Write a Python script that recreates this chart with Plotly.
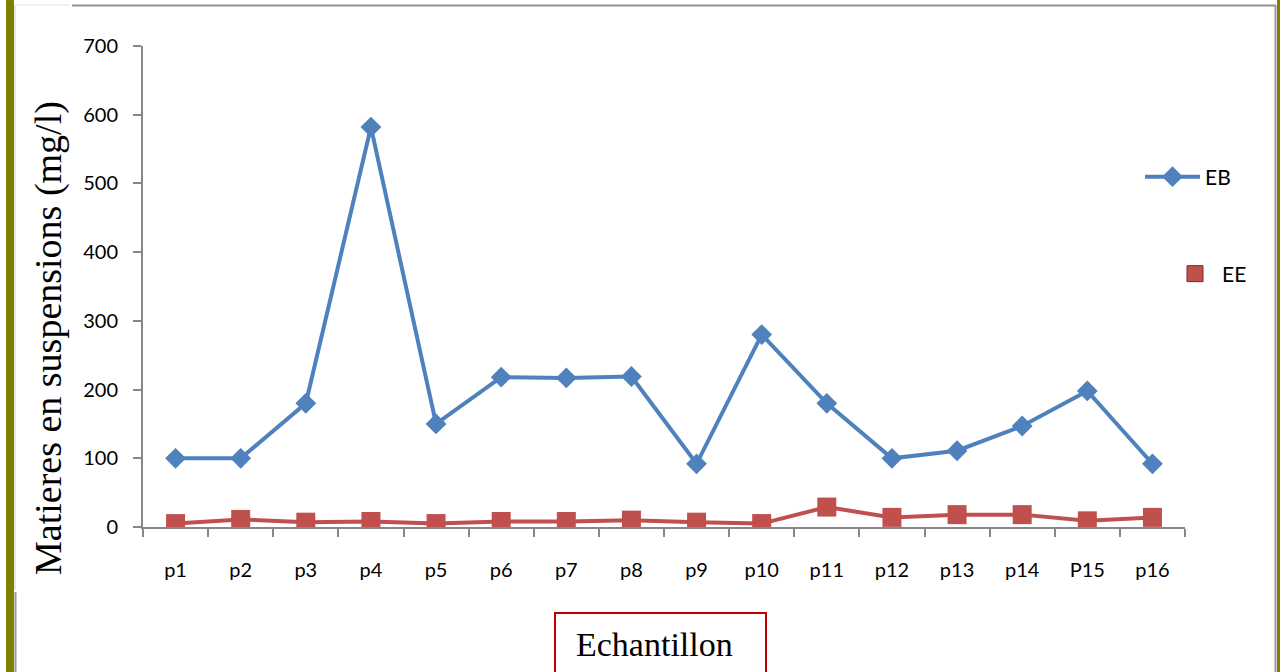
import plotly.graph_objects as go

# Sample points along the watercourse
categories = ["p1", "p2", "p3", "p4", "p5", "p6", "p7", "p8",
              "p9", "p10", "p11", "p12", "p13", "p14", "P15", "p16"]

# Suspended matter (mg/l): raw water (EB) and treated water (EE)
eb_values = [100, 100, 180, 582, 150, 218, 217, 219, 92, 280, 180, 100, 111, 147, 198, 92]
ee_values = [5, 11, 7, 8, 5, 8, 8, 10, 7, 5, 29, 14, 18, 18, 9, 14]

y_ticks = [0, 100, 200, 300, 400, 500, 600, 700]

W_PX, H_PX = 1282, 672
M_L, M_R, M_T, M_B = 143, 97, 46, 145
PLOT_W = W_PX - M_L - M_R
PLOT_H = H_PX - M_T - M_B


def px_x(px):
    return (px - M_L) / PLOT_W


def px_y(py):
    return (H_PX - M_B - py) / PLOT_H


BLUE = "#4F81BD"
RED = "#C0504D"
AXIS_GREY = "#878787"
OLIVE = "#808000"
TICK_FONT = dict(family="Lato, Carlito, Calibri, sans-serif", size=20, color="#000000")

fig = go.Figure()

fig.add_trace(go.Scatter(
    x=categories, y=eb_values, name="EB", mode="lines+markers",
    line=dict(color=BLUE, width=4),
    marker=dict(symbol="diamond", size=16, color=BLUE),
    legend="legend",
))
fig.add_trace(go.Scatter(
    x=categories, y=ee_values, name="EE", mode="lines+markers",
    line=dict(color=RED, width=4),
    marker=dict(symbol="square", size=19, color=RED),
    showlegend=False,
))
# Legend key for EE shown as a plain square swatch
fig.add_trace(go.Scatter(
    x=[None], y=[None], name="EE", mode="markers",
    marker=dict(symbol="square", size=16, color=RED,
                line=dict(color="#7a2a28", width=1)),
    legend="legend2",
))

fig.update_xaxes(
    type="category", range=[-0.5, len(categories) - 0.5],
    showline=True, linecolor=AXIS_GREY, linewidth=2,
    ticks="outside", tickson="boundaries", ticklen=8, tickcolor=AXIS_GREY, tickwidth=2,
    tickfont=TICK_FONT, ticklabelstandoff=24, showgrid=False, zeroline=False,
)
fig.update_yaxes(
    range=[0, 700], tickvals=y_ticks,
    showline=True, linecolor=AXIS_GREY, linewidth=2,
    ticks="outside", ticklen=8, tickcolor=AXIS_GREY, tickwidth=2,
    tickfont=TICK_FONT, ticklabelstandoff=11, showgrid=False, zeroline=False,
)

shapes = [
    # page frame
    dict(type="rect", xref="paper", yref="paper",
         x0=px_x(6), x1=px_x(14), y0=px_y(0), y1=px_y(672),
         fillcolor=OLIVE, line=dict(width=0), layer="below"),
    dict(type="rect", xref="paper", yref="paper",
         x0=px_x(1277), x1=px_x(1280), y0=px_y(0), y1=px_y(672),
         fillcolor=OLIVE, line=dict(width=0), layer="below"),
    dict(type="line", xref="paper", yref="paper",
         x0=px_x(1275.5), x1=px_x(1275.5), y0=px_y(5), y1=px_y(672),
         line=dict(color="#999999", width=2)),
    dict(type="line", xref="paper", yref="paper",
         x0=px_x(72), x1=px_x(1276), y0=px_y(5.5), y1=px_y(5.5),
         line=dict(color="#8f8f8f", width=2)),
    dict(type="line", xref="paper", yref="paper",
         x0=px_x(15), x1=px_x(70), y0=px_y(5), y1=px_y(5),
         line=dict(color="#e4e4e4", width=1)),
    dict(type="line", xref="paper", yref="paper",
         x0=px_x(15), x1=px_x(15), y0=px_y(5), y1=px_y(590),
         line=dict(color="#e8e8e8", width=2)),
    dict(type="line", xref="paper", yref="paper",
         x0=px_x(15.5), x1=px_x(15.5), y0=px_y(592), y1=px_y(672),
         line=dict(color="#9a9a9a", width=2)),
    # x-axis title box
    dict(type="rect", xref="paper", yref="paper",
         x0=px_x(555), x1=px_x(766), y0=px_y(613), y1=px_y(680),
         line=dict(color="#C00000", width=2), fillcolor="rgba(0,0,0,0)"),
]

annotations = [
    dict(text="Matieres en suspensions (mg/l)", textangle=-90,
         xref="paper", yref="paper", x=px_x(48), y=px_y(338),
         xanchor="center", yanchor="middle", showarrow=False,
         font=dict(family="Liberation Serif, Times New Roman, serif", size=38, color="#000000")),
    dict(text="Echantillon",
         xref="paper", yref="paper", x=px_x(654), y=px_y(644),
         xanchor="center", yanchor="middle", showarrow=False,
         font=dict(family="Liberation Serif, Times New Roman, serif", size=34, color="#000000")),
]

LEGEND_FONT = dict(family="Lato, Carlito, Calibri, sans-serif", size=21, color="#000000")

fig.update_layout(
    width=W_PX, height=H_PX,
    margin=dict(l=M_L, r=M_R, t=M_T, b=M_B, autoexpand=False),
    paper_bgcolor="white", plot_bgcolor="white",
    showlegend=True,
    legend=dict(x=px_x(1140), y=px_y(177), xanchor="left", yanchor="middle",
                font=LEGEND_FONT, itemwidth=55, bgcolor="rgba(0,0,0,0)"),
    legend2=dict(x=px_x(1168), y=px_y(274), xanchor="left", yanchor="middle",
                 font=LEGEND_FONT, itemwidth=44, bgcolor="rgba(0,0,0,0)"),
    shapes=shapes,
    annotations=annotations,
)

fig.write_html("out.html")
